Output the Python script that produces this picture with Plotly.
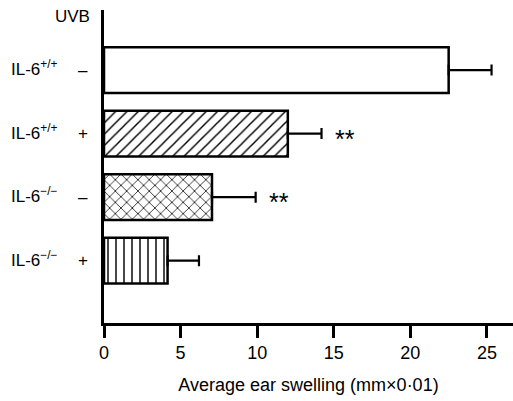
import plotly.graph_objects as go

categories = ["IL-6+/+ −", "IL-6+/+ +", "IL-6−/− −", "IL-6−/− +"]
genotype_labels = ["IL-6<sup>+/+</sup>", "IL-6<sup>+/+</sup>", "IL-6<sup>−/−</sup>", "IL-6<sup>−/−</sup>"]
uvb_labels = ["–", "+", "–", "+"]
values = [22.5, 12.0, 7.05, 4.15]
errors = [2.8, 2.2, 2.85, 2.05]
patterns = ["", "/", "x", "|"]
significance = ["", "**", "**", ""]

FONT = "Liberation Sans, Arial, sans-serif"

fig = go.Figure()
fig.add_trace(go.Bar(
    y=categories, x=values, orientation="h",
    marker=dict(color="white", line=dict(color="black", width=2.5),
                pattern=dict(shape=patterns, fgcolor="black", bgcolor="white",
                             size=8, solidity=0.18, fillmode="replace")),
    error_x=dict(type="data", array=errors, arrayminus=[0]*len(errors), symmetric=False,
                 color="black", thickness=2.2, width=5.5),
    showlegend=False, hoverinfo="skip",
))

annotations = []
for cat, g, u, v, e, s in zip(categories, genotype_labels, uvb_labels, values, errors, significance):
    annotations.append(dict(x=0, xref="paper", y=cat, yref="y", text=g, showarrow=False,
                            xanchor="left", xshift=-95, yshift=2, font=dict(size=17, family=FONT, color="black")))
    annotations.append(dict(x=0, xref="paper", y=cat, yref="y", text=u, showarrow=False,
                            xanchor="center", xshift=-21, font=dict(size=17, family=FONT, color="black")))
    if s:
        annotations.append(dict(x=v + e, xref="x", y=cat, yref="y", text=s, showarrow=False,
                                xanchor="left", xshift=11, yshift=-5, font=dict(size=25, family=FONT, color="black")))
annotations.append(dict(x=0, xref="paper", y=1, yref="paper", text="UVB", showarrow=False,
                        xanchor="center", xshift=-32, yanchor="middle", yshift=-6,
                        font=dict(size=17, family=FONT, color="black")))

fig.update_layout(
    width=513, height=401,
    margin=dict(l=104, r=0, t=10, b=78, autoexpand=False),
    paper_bgcolor="white", plot_bgcolor="white",
    bargap=0.28,
    font=dict(family=FONT, size=17, color="black"),
    annotations=annotations,
    xaxis=dict(range=[0, 26.7], tickvals=[0, 5, 10, 15, 20, 25], ticks="outside", ticklen=12,
               tickwidth=2.5, tickcolor="black", showline=True, linewidth=2.5, linecolor="black",
               showgrid=False, zeroline=False, tickfont=dict(size=18),
               title=dict(text="Average ear swelling (mm×0·01)", font=dict(size=18), standoff=17)),
    yaxis=dict(categoryorder="array", categoryarray=categories, range=[3.98, -0.945],
               showticklabels=False, ticks="", showline=True, linewidth=2.5, linecolor="black",
               showgrid=False, zeroline=False),
)

fig.write_html("out.html", config={"displayModeBar": False},
               post_script="document.body.style.margin='0';document.body.style.padding='0';")
